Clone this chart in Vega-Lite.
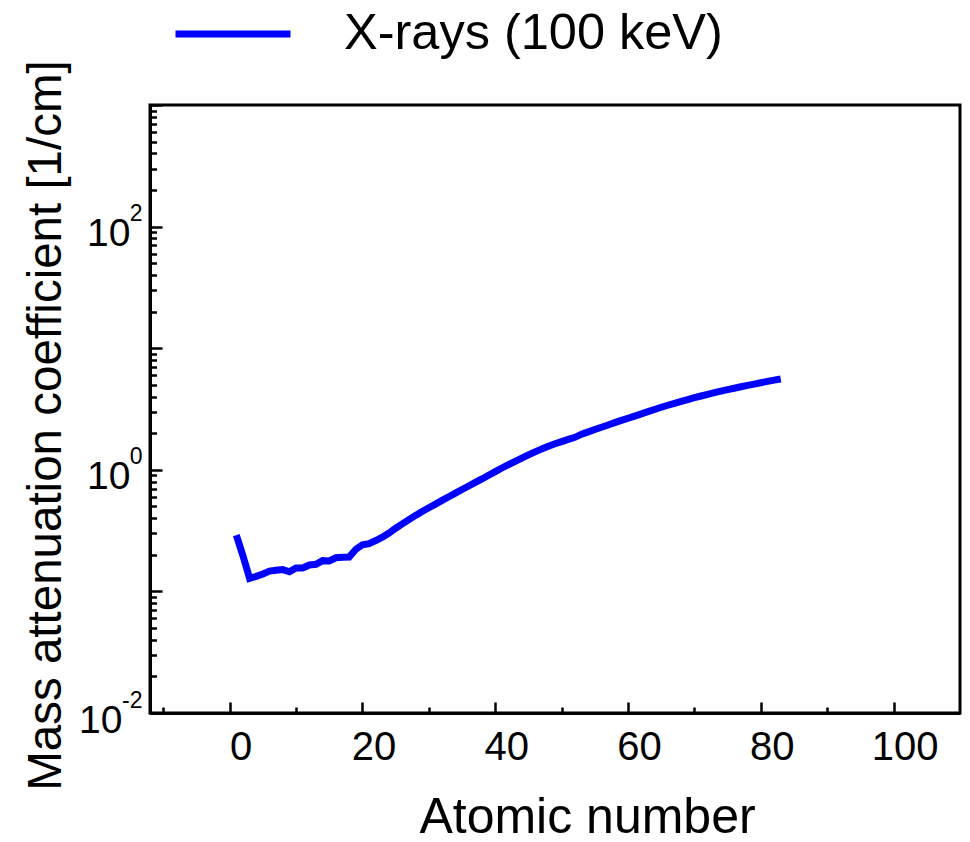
{
  "$schema": "https://vega.github.io/schema/vega-lite/v6.json",
  "width": 810,
  "height": 608,
  "autosize": {"type": "none"},
  "padding": {"left": 150, "top": 105, "right": 10, "bottom": 129},
  "background": "white",
  "config": {
    "font": "Liberation Sans",
    "view": {"stroke": "black", "strokeWidth": 3},
    "axis": {
      "domainColor": "black",
      "domainWidth": 3,
      "tickColor": "black",
      "tickWidth": 2.5,
      "labelColor": "black",
      "titleColor": "black",
      "grid": false,
      "labelFont": "Liberation Sans",
      "titleFont": "Liberation Sans",
      "titleFontWeight": "normal",
      "labelOverlap": false,
      "labelFlush": false,
      "labelBound": false
    },
    "legend": {
      "labelFont": "Liberation Sans",
      "labelColor": "black"
    }
  },
  "data": {
    "values": [
      {"Z": 1, "mu": 0.29}, {"Z": 2, "mu": 0.196}, {"Z": 3, "mu": 0.128}, {"Z": 4, "mu": 0.133},
      {"Z": 5, "mu": 0.139}, {"Z": 6, "mu": 0.147}, {"Z": 7, "mu": 0.149}, {"Z": 8, "mu": 0.151},
      {"Z": 9, "mu": 0.145}, {"Z": 10, "mu": 0.156}, {"Z": 11, "mu": 0.156}, {"Z": 12, "mu": 0.165},
      {"Z": 13, "mu": 0.167}, {"Z": 14, "mu": 0.179}, {"Z": 15, "mu": 0.178}, {"Z": 16, "mu": 0.189},
      {"Z": 17, "mu": 0.191}, {"Z": 18, "mu": 0.192}, {"Z": 19, "mu": 0.222}, {"Z": 20, "mu": 0.242},
      {"Z": 21, "mu": 0.247}, {"Z": 22, "mu": 0.262}, {"Z": 23, "mu": 0.279}, {"Z": 24, "mu": 0.302},
      {"Z": 25, "mu": 0.331}, {"Z": 26, "mu": 0.359}, {"Z": 27, "mu": 0.389}, {"Z": 28, "mu": 0.422},
      {"Z": 29, "mu": 0.454}, {"Z": 30, "mu": 0.488}, {"Z": 31, "mu": 0.522}, {"Z": 32, "mu": 0.56},
      {"Z": 33, "mu": 0.6}, {"Z": 34, "mu": 0.643}, {"Z": 35, "mu": 0.689}, {"Z": 36, "mu": 0.736},
      {"Z": 37, "mu": 0.787}, {"Z": 38, "mu": 0.841}, {"Z": 39, "mu": 0.902}, {"Z": 40, "mu": 0.966},
      {"Z": 41, "mu": 1.035}, {"Z": 42, "mu": 1.104}, {"Z": 43, "mu": 1.175}, {"Z": 44, "mu": 1.25},
      {"Z": 45, "mu": 1.327}, {"Z": 46, "mu": 1.406}, {"Z": 47, "mu": 1.486}, {"Z": 48, "mu": 1.563},
      {"Z": 49, "mu": 1.637}, {"Z": 50, "mu": 1.706}, {"Z": 51, "mu": 1.778}, {"Z": 52, "mu": 1.849},
      {"Z": 53, "mu": 1.963}, {"Z": 54, "mu": 2.051}, {"Z": 55, "mu": 2.143}, {"Z": 56, "mu": 2.239},
      {"Z": 57, "mu": 2.338}, {"Z": 58, "mu": 2.443}, {"Z": 59, "mu": 2.547}, {"Z": 60, "mu": 2.655},
      {"Z": 61, "mu": 2.767}, {"Z": 62, "mu": 2.884}, {"Z": 63, "mu": 3.006}, {"Z": 64, "mu": 3.133},
      {"Z": 65, "mu": 3.266}, {"Z": 66, "mu": 3.396}, {"Z": 67, "mu": 3.524}, {"Z": 68, "mu": 3.656},
      {"Z": 69, "mu": 3.784}, {"Z": 70, "mu": 3.917}, {"Z": 71, "mu": 4.046}, {"Z": 72, "mu": 4.178},
      {"Z": 73, "mu": 4.305}, {"Z": 74, "mu": 4.436}, {"Z": 75, "mu": 4.56}, {"Z": 76, "mu": 4.688},
      {"Z": 77, "mu": 4.819}, {"Z": 78, "mu": 4.943}, {"Z": 79, "mu": 5.07}, {"Z": 80, "mu": 5.2},
      {"Z": 81, "mu": 5.333}, {"Z": 82, "mu": 5.458}, {"Z": 83, "mu": 5.585}
    ]
  },
  "layer": [
    {
      "mark": {"type": "line", "strokeWidth": 7},
      "encoding": {
        "x": {
          "field": "Z",
          "type": "quantitative",
          "scale": {"domain": [-12, 110], "nice": false, "zero": false},
          "axis": {
            "values": [-10, 0, 10, 20, 30, 40, 50, 60, 70, 80, 90, 100],
            "labelExpr": "datum.value % 20 == 0 ? datum.label : ''",
            "tickSize": {"condition": {"test": "datum.value % 20 == 0", "value": -11}, "value": -6},
            "labelFontSize": 40,
            "labelPadding": 25,
            "labelOffset": 11,
            "title": "Atomic number",
            "titleFontSize": 50,
            "titleX": 437,
            "titleY": 119,
            "titleAlign": "center",
            "titleBaseline": "alphabetic"
          }
        },
        "y": {
          "field": "mu",
          "type": "quantitative",
          "scale": {"type": "log", "domain": [0.01, 1000], "nice": false},
          "axis": {
            "orient": "left",
            "values": [0.01, 0.02, 0.03, 0.04, 0.05, 0.06, 0.07, 0.08, 0.09,
                       0.1, 0.2, 0.3, 0.4, 0.5, 0.6, 0.7, 0.8, 0.9,
                       1, 2, 3, 4, 5, 6, 7, 8, 9,
                       10, 20, 30, 40, 50, 60, 70, 80, 90,
                       100, 200, 300, 400, 500, 600, 700, 800, 900, 1000],
            "labelExpr": "(datum.value == 0.01 || datum.value == 1 || datum.value == 100) ? '10' : ''",
            "tickSize": {"condition": {"test": "abs(log(datum.value)/LN10 - round(log(datum.value)/LN10)) < 0.001", "value": -12}, "value": -6.5},
            "labelFontSize": 39,
            "labelPadding": {"condition": {"test": "datum.value == 0.01", "value": 40}, "value": 32},
            "labelAlign": "right",
            "labelBaseline": "middle",
            "labelOffset": 7,
            "title": "Mass attenuation coefficient [1/cm]",
            "titleFontSize": 47.5,
            "titleX": -90,
            "titleY": 320,
            "titleAlign": "center",
            "titleBaseline": "alphabetic"
          }
        },
        "color": {
          "datum": "X-rays (100 keV)",
          "type": "nominal",
          "scale": {"range": ["#0000ff"]},
          "legend": {
            "orient": "none",
            "legendX": 22,
            "legendY": -132,
            "title": null,
            "padding": 0,
            "symbolType": "stroke",
            "symbolSize": 13225,
            "symbolStrokeWidth": 7,
            "labelFontSize": 50.5,
            "labelOffset": 50,
            "labelLimit": 0
          }
        }
      }
    },
    {
      "mark": {"type": "rule", "opacity": 0},
      "encoding": {
        "y": {
          "field": "mu",
          "type": "quantitative",
          "scale": {"type": "log", "domain": [0.01, 1000], "nice": false},
          "axis": {
            "orient": "left",
            "values": [0.01, 1, 100],
            "labelExpr": "datum.value == 0.01 ? '-2' : (datum.value == 1 ? '0' : '2')",
            "ticks": false,
            "tickSize": 0,
            "domain": false,
            "labelFontSize": 23,
            "labelPadding": 8,
            "labelAlign": "right",
            "labelBaseline": "middle",
            "labelOffset": -13,
            "title": null
          }
        }
      }
    }
  ],
  "resolve": {"axis": {"y": "independent"}}
}
